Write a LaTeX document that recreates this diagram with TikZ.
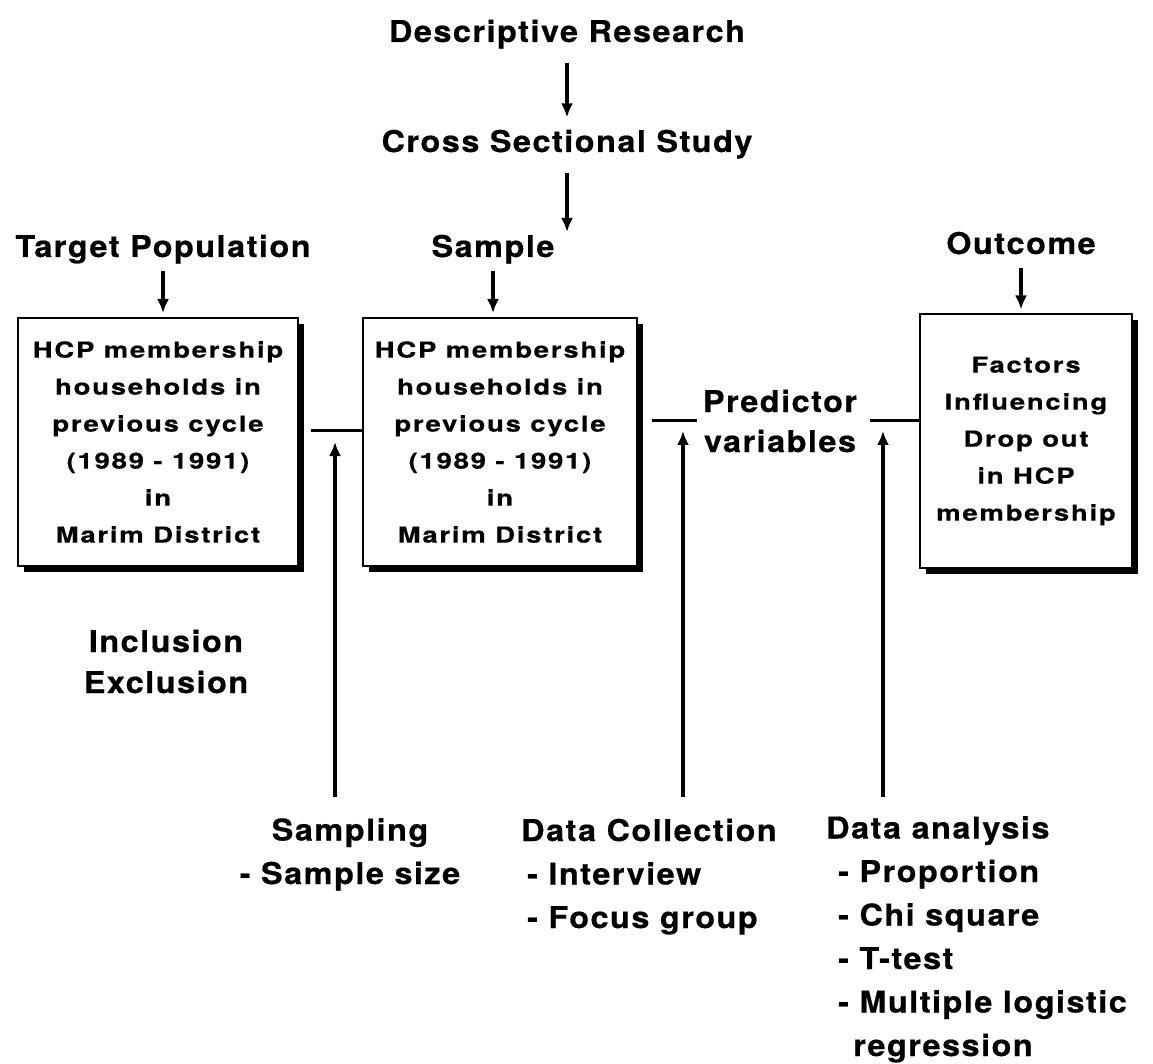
\documentclass[tikz,border=0pt]{standalone}
\usepackage{fontspec}
\newfontfamily\lblfont{TeX Gyre Heros}[FakeStretch=1.08, LetterSpace=5, FakeBold=0.5]
\newfontfamily\boxfont{TeX Gyre Heros}[FakeStretch=1.25, LetterSpace=8, FakeBold=0.5]
\usetikzlibrary{arrows.meta, positioning, shadows}
\tikzstyle{heading} = [font=\lblfont\bfseries\fontsize{30}{43.5}\selectfont, inner sep=0pt, anchor=base]
\tikzstyle{member} = [draw, line width=2pt, fill=white, rectangle, align=center, inner sep=0pt, font=\boxfont\bfseries\fontsize{22}{37}\selectfont, drop shadow={shadow xshift=6pt, shadow yshift=-6pt, fill=black, opacity=1}]
\tikzstyle{flow} = [line width=3.5pt, -{Latex[length=14pt,width=12pt]}]
\tikzstyle{link} = [line width=3pt]

\begin{document}
\begin{tikzpicture}[x=1pt, y=-1pt]
	\useasboundingbox (0,0) rectangle (1153,1064);
	% titles
	\node[heading] (descr) at (567,42) {Descriptive Research};
	\node[heading] (cross) at (567,152) {Cross Sectional Study};
	\node[heading] (target) at (163,257) {Target Population};
	\node[heading] (sample) at (493,257) {Sample};
	\node[heading] (outcome) at (1021,254) {Outcome};
	% boxes
	\node[member, minimum width=280, minimum height=248] (box1) at (158,442) {HCP membership\\households in\\previous cycle\\(1989 - 1991)\\in\\Marim District};
	\node[member, minimum width=274, minimum height=248] (box2) at (500,442) {HCP membership\\households in\\previous cycle\\(1989 - 1991)\\in\\Marim District};
	\node[member, minimum width=212, minimum height=253] (box3) at (1026,441) {Factors\\Influencing\\Drop out\\in HCP\\membership};
	\node[heading, align=center] (predictor) at (780,452) {Predictor\\[-3.5pt]variables};
	\node[heading, align=center, font=\lblfont\bfseries\fontsize{30}{41}\selectfont] (incl) at (166,693) {Inclusion\\Exclusion};
	% methods
	\node[heading, align=center] (sampling) at (350,884) {Sampling\\- Sample size};
	\node[heading, align=left, anchor=base west] (collect) at (521,928) {Data Collection\\\hspace*{6pt}- Interview\\\hspace*{6pt}- Focus group};
	\node[heading, align=left, anchor=base west] (analysis) at (826,1056) {Data analysis\\\hspace*{12pt}- Proportion\\\hspace*{12pt}- Chi square\\\hspace*{12pt}- T-test\\\hspace*{12pt}- Multiple logistic\\\hspace*{27pt}regression};
	% arrows down
	\draw[flow, shorten <=14pt, shorten >=12pt] (descr.south) -- (cross.north);
	\coordinate (crossend) at (567,232);
	\draw[flow, shorten <=14pt] (cross.south) -- (crossend);
	\draw[flow, shorten <=7pt, shorten >=4pt] (target.south) -- (target.south |- box1.north);
	\draw[flow, shorten <=7pt, shorten >=4pt] (sample.south) -- (sample.south |- box2.north);
	\draw[flow, shorten <=13pt, shorten >=4pt] (outcome.south) -- (outcome.south |- box3.north);
	% links
	\coordinate (joinA) at ([yshift=12pt]box2.west);
	\draw[link, shorten <=12pt] (box1.east |- joinA) -- (joinA);
	\draw[link, shorten <=14pt, shorten >=6pt] (predictor.west -| box2.east) -- (predictor.west);
	\draw[link, shorten <=13pt] (predictor.east) -- (predictor.east -| box3.west);
	% arrows up
	\coordinate (footA) at (335,797);
	\coordinate (footB) at (683,797);
	\coordinate (footC) at (883,797);
	\draw[flow, shorten >=12pt] (footA) -- (footA |- joinA);
	\draw[flow, shorten >=10pt] (footB) -- (footB |- predictor.west);
	\draw[flow, shorten >=10pt] (footC) -- (footC |- predictor.east);
\end{tikzpicture}
\end{document}
